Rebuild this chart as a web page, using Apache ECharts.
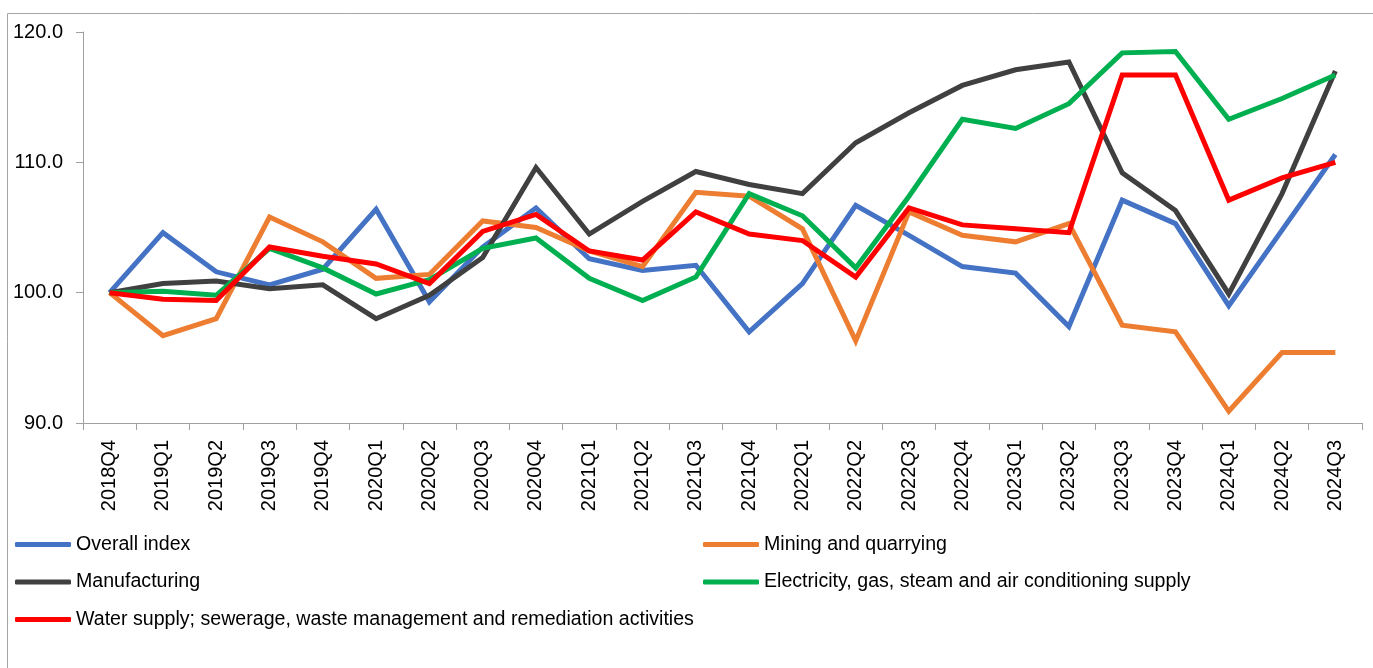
<!DOCTYPE html>
<html>
<head>
<meta charset="utf-8">
<script src="https://cdn.jsdelivr.net/npm/echarts@6/dist/echarts.min.js"></script>
<style>
  html, body { margin: 0; padding: 0; background: #fff; }
  #main { width: 1373px; height: 668px; }
</style>
</head>
<body>
<div id="main"></div>
<script>
// quarters on the x axis
var quarters = ['2018Q4', '2019Q1', '2019Q2', '2019Q3', '2019Q4', '2020Q1', '2020Q2', '2020Q3',
  '2020Q4', '2021Q1', '2021Q2', '2021Q3', '2021Q4', '2022Q1', '2022Q2', '2022Q3',
  '2022Q4', '2023Q1', '2023Q2', '2023Q3', '2023Q4', '2024Q1', '2024Q2', '2024Q3'];

var overallIndex = [100.0, 104.6, 101.6, 100.6, 101.8, 106.4, 99.3, 103.5, 106.5, 102.6, 101.7, 102.1,
  97.0, 100.7, 106.7, 104.4, 102.0, 101.5, 97.4, 107.1, 105.3, 99.0, 104.8, 110.6];
var mining = [100.0, 96.7, 98.0, 105.8, 103.9, 101.1, 101.4, 105.5, 105.0, 103.2, 102.0, 107.7,
  107.4, 104.9, 96.3, 106.2, 104.4, 103.9, 105.3, 97.5, 97.0, 90.9, 95.4, 95.4];
var manufacturing = [100.0, 100.7, 100.9, 100.3, 100.6, 98.0, 99.8, 102.7, 109.6, 104.5, 107.0, 109.3,
  108.3, 107.6, 111.5, 113.8, 115.9, 117.1, 117.7, 109.2, 106.3, 99.9, 107.6, 117.0];
var electricity = [100.0, 100.1, 99.8, 103.4, 101.9, 99.9, 101.0, 103.4, 104.2, 101.1, 99.4, 101.2,
  107.6, 105.9, 101.9, 107.4, 113.3, 112.6, 114.5, 118.4, 118.5, 113.3, 114.9, 116.7];
var water = [100.0, 99.5, 99.4, 103.5, 102.8, 102.2, 100.7, 104.7, 106.0, 103.2, 102.5, 106.2,
  104.5, 104.0, 101.2, 106.5, 105.2, 104.9, 104.6, 116.7, 116.7, 107.1, 108.8, 110.0];

var names = ['Overall index', 'Mining and quarrying', 'Manufacturing',
  'Electricity, gas, steam and air conditioning supply',
  'Water supply; sewerage, waste management and remediation activities'];
var colors = ['#4472C4', '#ED7D31', '#404040', '#00B050', '#FF0000'];
var values = [overallIndex, mining, manufacturing, electricity, water];

var chart = echarts.init(document.getElementById('main'));

var legendText = {
  fontFamily: "'Liberation Sans', Arial, sans-serif",
  fontSize: 19.6,
  lineHeight: 24,
  color: '#000'
};

var option = {
  animation: false,
  color: colors,
  grid: { left: 83, top: 32, right: 11, bottom: 245, containLabel: false },
  graphic: [{
    type: 'rect',
    shape: { x: 7.5, y: 13.5, width: 1400, height: 700 },
    style: { fill: 'none', stroke: '#a6a6a6', lineWidth: 1 },
    silent: true
  }],
  legend: [{
    orient: 'vertical',
    left: 15, top: 532.5, padding: 0,
    itemWidth: 56, itemHeight: 5, itemGap: 13.5,
    icon: 'roundRect',
    textStyle: legendText,
    data: [names[0], names[2], names[4]]
  }, {
    orient: 'vertical',
    left: 703, top: 532.5, padding: 0,
    itemWidth: 56, itemHeight: 5, itemGap: 13.5,
    icon: 'roundRect',
    textStyle: legendText,
    data: [names[1], names[3]]
  }],
  xAxis: {
    type: 'category',
    data: quarters,
    boundaryGap: true,
    axisLine: { lineStyle: { color: '#a0a0a0', width: 1 } },
    axisTick: { show: true, length: 7, alignWithLabel: false, lineStyle: { color: '#a0a0a0' } },
    axisLabel: {
      rotate: 90, margin: 17, interval: 0,
      fontFamily: "'Liberation Sans', Arial, sans-serif", fontSize: 20, color: '#000'
    },
    splitLine: { show: false }
  },
  yAxis: {
    type: 'value',
    min: 90, max: 120, interval: 10,
    axisLine: { show: true, lineStyle: { color: '#a0a0a0', width: 1 } },
    axisTick: { show: true, length: 7, lineStyle: { color: '#a0a0a0' } },
    axisLabel: {
      margin: 20,
      fontFamily: "'Liberation Sans', Arial, sans-serif", fontSize: 20, color: '#000',
      formatter: function (v) { return v.toFixed(1); }
    },
    splitLine: { show: false }
  },
  series: names.map(function (n, i) {
    return {
      name: n,
      type: 'line',
      data: values[i],
      symbol: 'none',
      lineStyle: { width: 5, color: colors[i], join: 'miter' },
      itemStyle: { color: colors[i] }
    };
  })
};

chart.setOption(option);
</script>
</body>
</html>
